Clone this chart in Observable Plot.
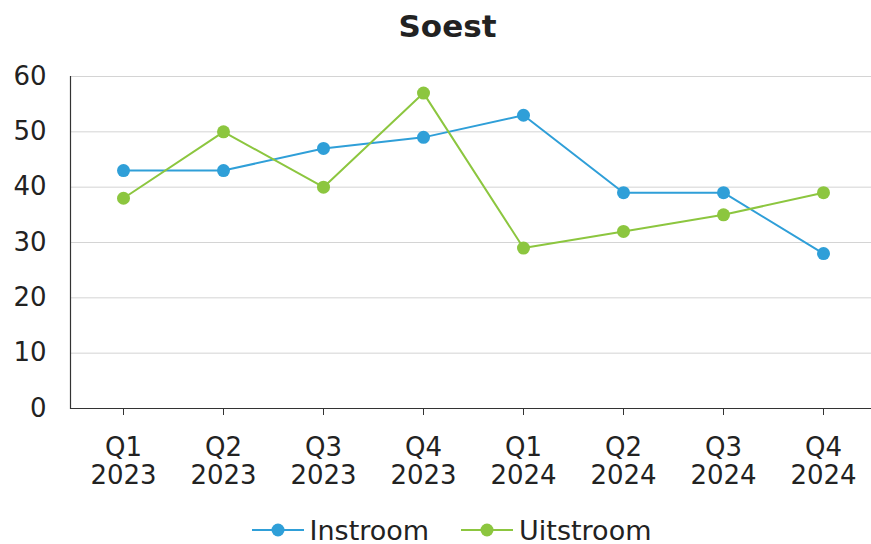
<!DOCTYPE html>
<html>
<head>
<meta charset="utf-8">
<script src="https://cdn.jsdelivr.net/npm/d3@7"></script>
<script src="https://cdn.jsdelivr.net/npm/@observablehq/plot@0.6"></script>
<style>
  body { margin: 0; background: #fff; font-family: "DejaVu Sans", Verdana, sans-serif; color: #222; }
  #title { height: 50px; line-height: 52px; text-align: center; font-weight: bold; font-size: 31px; color: #222; padding-left: 24px; }
  #legend { height: 40px; display: flex; justify-content: center; align-items: center; font-size: 27px; color: #222; padding-left: 32px; }
  .item { display: flex; align-items: center; margin: 0 16px; }
  .item svg { margin-right: 6px; }
</style>
</head>
<body>
<div id="title">Soest</div>
<div id="chart"></div>
<div id="legend"></div>
<script>
const quarters = ["Q1", "Q2", "Q3", "Q4", "Q1", "Q2", "Q3", "Q4"];
const years = ["2023", "2023", "2023", "2023", "2024", "2024", "2024", "2024"];
const instroom = [43, 43, 47, 49, 53, 39, 39, 28];
const uitstroom = [38, 50, 40, 57, 29, 32, 35, 39];
const seriesNames = ["Instroom", "Uitstroom"];
const colors = ["#2f9fd8", "#8cc63f"];
const yTicks = [0, 10, 20, 30, 40, 50, 60];

const labels = quarters.map((q, i) => q + "\n" + years[i]);
const data = [];
[instroom, uitstroom].forEach((vals, s) => {
  vals.forEach((v, i) => data.push({ period: labels[i], value: v, series: seriesNames[s] }));
});

const chart = Plot.plot({
  width: 871,
  height: 460,
  marginTop: 26,
  marginBottom: 102,
  marginLeft: 70,
  marginRight: 0,
  style: { fontFamily: "DejaVu Sans, Verdana, sans-serif", color: "#222", background: "#fff" },
  x: { type: "point", domain: labels, range: [120, 825], padding: 0 },
  y: { domain: [0, 60], ticks: yTicks },
  color: { domain: seriesNames, range: colors },
  marks: [
    Plot.gridY(yTicks.filter(d => d > 0), { stroke: "#d4d4d4", strokeOpacity: 1, strokeWidth: 1 }),
    Plot.axisY(yTicks, { tickSize: 0, tickPadding: 24, fontSize: 26, label: null }),
    Plot.axisX({ tickSize: 7, tickPadding: 20, fontSize: 26, lineHeight: 1.1, label: null, stroke: "#333" }),
    Plot.ruleY([0], { stroke: "#333", strokeWidth: 1.2 }),
    Plot.frame({ anchor: "left", stroke: "#333", strokeWidth: 1.2 }),
    Plot.line(data, { x: "period", y: "value", stroke: "series", z: "series", strokeWidth: 2 }),
    Plot.dot(data, { x: "period", y: "value", fill: "series", r: 6.5 })
  ]
});
document.getElementById("chart").appendChild(chart);

const legend = document.getElementById("legend");
seriesNames.forEach((name, i) => {
  const item = document.createElement("div");
  item.className = "item";
  item.innerHTML = `<svg width="52" height="16"><line x1="0" x2="52" y1="8" y2="8" stroke="${colors[i]}" stroke-width="2"/><circle cx="26" cy="8" r="6.5" fill="${colors[i]}"/></svg><span>${name}</span>`;
  legend.appendChild(item);
});
</script>
</body>
</html>
